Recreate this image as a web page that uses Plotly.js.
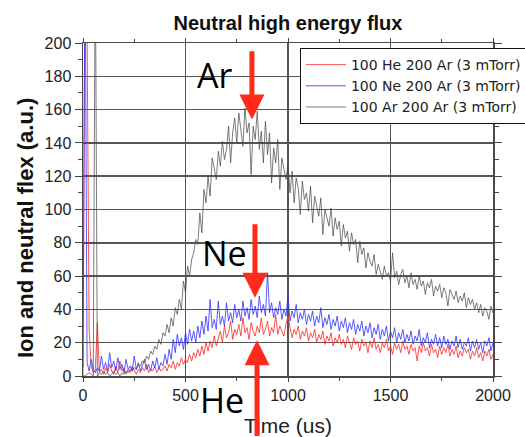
<!DOCTYPE html>
<html>
<head>
<meta charset="utf-8">
<script src="https://cdn.plot.ly/plotly-3.0.1.min.js"></script>
<style>html,body{margin:0;padding:0;background:#fff;}#chart{width:525px;height:437px;}</style>
</head>
<body>
<div id="chart"></div>
<script>
// Time axis (us)
const time = [
0,10,20,30,40,50,60,70,80,90,
100,110,120,130,140,150,160,170,180,190,
200,210,220,230,240,250,260,270,280,290,
300,310,320,330,340,350,360,370,380,390,
400,410,420,430,440,450,460,470,480,490,
500,510,520,530,540,550,560,570,580,590,
600,610,620,630,640,650,660,670,680,690,
700,710,720,730,740,750,760,770,780,790,
800,810,820,830,840,850,860,870,880,890,
900,910,920,930,940,950,960,970,980,990,
1000,1010,1020,1030,1040,1050,1060,1070,1080,1090,
1100,1110,1120,1130,1140,1150,1160,1170,1180,1190,
1200,1210,1220,1230,1240,1250,1260,1270,1280,1290,
1300,1310,1320,1330,1340,1350,1360,1370,1380,1390,
1400,1410,1420,1430,1440,1450,1460,1470,1480,1490,
1500,1510,1520,1530,1540,1550,1560,1570,1580,1590,
1600,1610,1620,1630,1640,1650,1660,1670,1680,1690,
1700,1710,1720,1730,1740,1750,1760,1770,1780,1790,
1800,1810,1820,1830,1840,1850,1860,1870,1880,1890,
1900,1910,1920,1930,1940,1950,1960,1970,1980,1990,
2000];

// 100 He 200 Ar (3 mTorr)
const heFlux = [
0,250,205,28,6,2,3,32,2,4,
1,5,2,7,3,1,6,2,9,3,
5,1,4,2,6,3,1,4,2,5,
3,7,2,4,3,6,2,5,3,4,
6,3,7,5,9,4,8,6,11,7,
10,8,13,9,14,11,16,12,18,13,
20,15,21,17,24,18,22,27,20,30,
23,26,33,22,28,25,31,24,35,26,
29,22,32,27,24,30,26,35,25,28,
33,24,29,26,37,25,30,27,24,31,
36,29,23,28,25,30,22,27,24,29,
21,26,23,28,20,25,22,27,19,24,
21,26,18,23,20,25,19,22,17,24,
20,16,23,19,21,15,22,18,20,14,
21,17,23,16,19,14,20,17,22,15,
18,13,20,16,19,14,21,16,18,13,
19,15,17,9,18,14,20,15,17,12,
19,14,16,11,18,13,17,14,19,12,
16,13,18,11,15,12,17,14,16,10,
15,12,17,11,14,9,15,12,16,10,
13];

// 100 Ne 200 Ar (3 mTorr)
const neFlux = [
5,260,8,3,10,4,2,5,3,12,
4,8,3,14,5,9,3,11,4,7,
2,10,4,6,3,12,4,8,3,6,
10,4,7,3,9,5,11,4,8,6,
13,7,16,10,22,14,25,18,23,16,
26,19,28,21,27,20,30,23,33,25,
36,27,46,29,34,28,45,31,36,30,
44,33,38,32,43,35,40,33,45,36,
41,34,46,37,42,35,48,38,43,36,
62,38,44,35,41,37,45,34,40,36,
48,33,39,35,43,32,38,34,40,31,
37,33,39,30,36,32,41,29,35,31,
37,28,34,30,36,27,33,29,35,26,
32,28,34,25,31,27,33,24,30,26,
32,23,29,25,31,22,28,24,30,21,
27,23,29,20,26,22,28,20,25,21,
27,19,24,21,28,18,23,20,26,17,
22,19,25,18,23,17,24,19,22,16,
21,18,24,17,22,16,20,18,23,15,
21,17,22,16,20,14,21,18,23,15,
20];

// 100 Ar 200 Ar (3 mTorr)
const arFlux = [
0,0,1,2,1,0,260,0,2,1,
3,1,2,0,1,3,1,2,0,2,
1,3,2,4,3,5,4,7,6,9,
8,12,10,15,13,18,16,22,19,26,
24,31,26,35,30,41,37,46,40,57,
50,66,60,70,74,82,79,98,86,112,
104,120,108,131,125,118,135,126,141,130,
136,150,128,146,155,140,158,149,138,161,
146,152,121,150,142,159,136,147,128,153,
133,146,116,137,128,142,112,131,124,118,
127,110,123,104,119,113,97,117,106,110,
99,114,92,108,102,96,107,85,100,94,
90,101,84,95,88,93,78,91,83,87,
75,86,79,82,68,81,73,77,65,74,
69,66,73,61,67,63,58,66,60,62,
57,74,59,63,55,61,64,56,60,53,
62,55,58,52,60,54,57,49,56,53,
58,48,54,51,55,47,53,50,42,52,
49,46,51,44,48,45,50,41,47,43,
46,40,44,38,43,36,41,39,34,42,
38];

const seriesNames = ['100 He 200 Ar (3 mTorr)', '100 Ne 200 Ar (3 mTorr)', '100 Ar 200 Ar (3 mTorr)'];
const xTickVals = [0, 500, 1000, 1500, 2000];
const yTickVals = [0, 20, 40, 60, 80, 100, 120, 140, 160, 180, 200];

const FONT = 'Arial, "Liberation Sans", sans-serif';

const traces = [
  {x: time, y: heFlux, name: seriesNames[0], mode: 'lines', line: {color: 'rgba(255,40,40,0.8)', width: 1}},
  {x: time, y: neFlux, name: seriesNames[1], mode: 'lines', line: {color: 'rgba(50,50,255,0.8)', width: 1}},
  {x: time, y: arFlux, name: seriesNames[2], mode: 'lines', line: {color: 'rgba(70,70,70,0.7)', width: 1}}
];

const arrowStyle = {showarrow: true, text: '', arrowcolor: '#ff2a1a', arrowwidth: 5, arrowhead: 2, arrowsize: 1, axref: 'x', ayref: 'y', xref: 'x', yref: 'y', standoff: 0};
const bigFont = {family: '"Open Sans", "Noto Sans", sans-serif', size: 34, color: '#000'};

const layout = {
  width: 525, height: 437,
  margin: {l: 83, r: 32, t: 43, b: 61, autoexpand: false},
  paper_bgcolor: '#fff', plot_bgcolor: '#fff',
  font: {family: FONT, color: '#222'},
  title: {text: '<b>Neutral high energy flux</b>', font: {family: FONT, size: 20, color: '#111'}, x: 0.5, xref: 'paper', y: 0.947, yref: 'container', yanchor: 'middle'},
  showlegend: true,
  legend: {x: 0.529, y: 0.985, xanchor: 'left', yanchor: 'top', bgcolor: '#fff', bordercolor: '#111', borderwidth: 1, itemwidth: 40,
           font: {family: '"DejaVu Sans", sans-serif', size: 14, color: '#222'}, tracegroupgap: 0},
  xaxis: {
    range: [0, 2000], tickvals: xTickVals, ticks: 'outside', ticklen: 4, tickcolor: '#444',
    minor: {dtick: 250, ticks: 'outside', ticklen: 3, tickcolor: '#444', showgrid: false},
    showgrid: true, gridcolor: '#555', gridwidth: 1.5, zeroline: false,
    showline: true, linecolor: '#4a4a4a', linewidth: 1.5, mirror: 'allticks',
    tickfont: {family: FONT, size: 16, color: '#222'},
    title: {text: 'Time (us)', font: {family: FONT, size: 21, color: '#222'}, standoff: 17}
  },
  yaxis: {
    range: [0, 200], tickvals: yTickVals, ticks: 'outside', ticklen: 7, tickcolor: '#444',
    minor: {dtick: 10, ticks: 'outside', ticklen: 4, tickcolor: '#444', showgrid: false},
    showgrid: true, gridcolor: '#555', gridwidth: 1.5, zeroline: false,
    showline: true, linecolor: '#4a4a4a', linewidth: 1.5, mirror: 'allticks',
    tickfont: {family: FONT, size: 16, color: '#222'},
    title: {text: '<b>Ion and neutral flex (a.u.)&nbsp;&nbsp;&nbsp;&nbsp;&nbsp;&nbsp;</b>', font: {family: FONT, size: 22, color: '#111'}, standoff: 5}
  },
  annotations: [
    {text: 'Ar', x: 640, y: 181, xref: 'x', yref: 'y', showarrow: false, font: bigFont},
    {text: 'Ne', x: 688, y: 74, xref: 'x', yref: 'y', showarrow: false, font: bigFont},
    {text: 'He', x: 680, y: -0.072, xref: 'x', yref: 'paper', yanchor: 'middle', showarrow: false, font: bigFont},
    Object.assign({x: 824, y: 154, ax: 824, ay: 196}, arrowStyle),
    Object.assign({x: 839, y: 47, ax: 839, ay: 92}, arrowStyle),
    Object.assign({x: 849, y: 21.5, ax: 849, ay: -37}, arrowStyle)
  ]
};

Plotly.newPlot('chart', traces, layout, {displayModeBar: false, staticPlot: true});
</script>
</body>
</html>
